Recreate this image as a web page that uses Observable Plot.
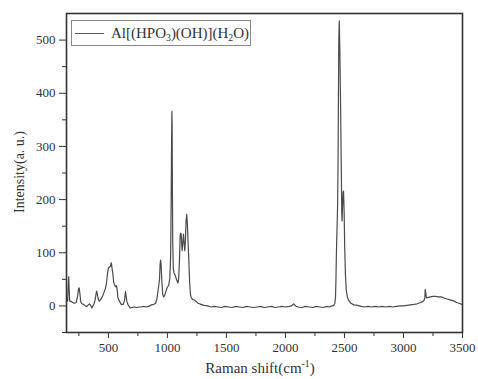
<!DOCTYPE html>
<html>
<head>
<meta charset="utf-8">
<script src="https://cdn.jsdelivr.net/npm/d3@7"></script>
<script src="https://cdn.jsdelivr.net/npm/@observablehq/plot@0.6"></script>
<style>
  html, body { margin: 0; padding: 0; background: #fff; }
  #wrap { position: relative; width: 478px; height: 379px; font-family: "Liberation Serif", "Times New Roman", serif; color: #333; }
  #ylab { position: absolute; left: 20px; top: 172px; transform: translate(-50%, -50%) rotate(-90deg); font-size: 14px; white-space: nowrap; }
  #xlab { position: absolute; left: 260px; top: 367px; transform: translate(-50%, -50%); font-size: 15px; white-space: nowrap; }
  #legend { position: absolute; left: 71px; top: 20px; width: 180px; height: 26px; border: 1px solid #888; box-sizing: border-box; background: #fff; }
  #legend .ln { position: absolute; left: 3px; top: 12px; width: 29px; height: 0; border-top: 1px solid #555; }
  #legend .tx { position: absolute; left: 39px; top: 3px; font-size: 15px; white-space: nowrap; line-height: 18px; }
  sub, sup { font-size: 65%; }
  sub { vertical-align: -0.3em; }
</style>
</head>
<body>
<div id="wrap">
  <div id="chart"></div>
  <div id="ylab">Intensity(a. u.)</div>
  <div id="xlab">Raman shift(cm<sup>-1</sup>)</div>
  <div id="legend"><div class="ln"></div><div class="tx">Al[(HPO<sub>3</sub>)(OH)](H<sub>2</sub>O)</div></div>
</div>
<script>
const seriesName = "Al[(HPO3)(OH)](H2O)";
const wavenumber = [
  145, 150, 155, 160, 164, 168, 172, 177, 182, 195, 210, 227, 240, 247, 252, 258, 266, 275, 290, 305, 318, 330,
  340, 350, 360, 370, 377, 388, 395, 400, 406, 414, 422, 435, 450, 462, 475, 485, 493, 501, 510, 518, 523, 526,
  531, 537, 545, 551, 560, 568, 575, 580, 595, 609, 626, 636, 641, 645, 650, 657, 665, 676, 686, 700, 720, 740,
  760, 779, 800, 820, 840, 864, 885, 900, 910, 918, 925, 933, 938, 942, 946, 952, 960, 968, 975, 985, 995, 1003,
  1012, 1020, 1027, 1032, 1035, 1038, 1040, 1042, 1045, 1050, 1056, 1065, 1074, 1082, 1088, 1095, 1102, 1108,
  1113, 1117, 1121, 1125, 1130, 1136, 1141, 1147, 1152, 1158, 1164, 1169, 1175, 1181, 1188, 1195, 1201, 1215,
  1229, 1245, 1260, 1285, 1310, 1340, 1370, 1398, 1430, 1460, 1490, 1520, 1550, 1580, 1610, 1640, 1670, 1700,
  1730, 1760, 1790, 1820, 1850, 1880, 1910, 1940, 1970, 2000, 2030, 2050, 2062, 2069, 2078, 2090, 2110, 2140,
  2170, 2200, 2230, 2260, 2290, 2320, 2350, 2370, 2381, 2395, 2409, 2418, 2424, 2428, 2431, 2434, 2438, 2442,
  2446, 2449, 2452, 2456, 2461, 2467, 2473, 2477, 2480, 2484, 2488, 2492, 2497, 2502, 2508, 2515, 2525, 2540,
  2555, 2580, 2610, 2640, 2670, 2700, 2730, 2760, 2790, 2820, 2850, 2880, 2910, 2940, 2970, 3000, 3031, 3060,
  3090, 3116, 3140, 3160, 3172, 3177, 3179, 3181, 3184, 3195, 3210, 3229, 3250, 3271, 3295, 3320, 3345, 3370,
  3400, 3430, 3455, 3483, 3500
];
const intensity = [
  12, 15, 9, 38, 55, 30, 10, 8, 9, 7, 5, 6, 20, 32, 34, 24, 8, 4, 3, 0, -1, 2,
  4, 1, -4, 1, 3, 12, 22, 28, 22, 13, 9, 12, 18, 25, 33, 45, 62, 72, 73, 75, 81, 80,
  70, 62, 44, 40, 36, 38, 30, 16, 8, 3, 3, 10, 20, 27, 18, 8, 3, -1, -4, -3, -2, -3,
  -2, -2, -1, -2, -1, 2, 3, 5, 12, 24, 36, 50, 78, 86, 80, 50, 22, 17, 19, 26, 33, 36,
  40, 52, 90, 200, 300, 366, 340, 230, 120, 70, 62, 58, 52, 47, 43, 50, 85, 132,
  137, 134, 115, 104, 118, 135, 120, 104, 120, 160, 172, 155, 120, 88, 45, 22, 16, 12,
  11, 8, 5, 3, 1, 0, -2, -1, -2, -3, -1, -2, -3, -1, -2, -3, -1, -2,
  -3, -2, -1, -3, -2, -1, -3, -2, -1, -2, -1, 0, 2, 4, 2, -1, -2, -3,
  -1, -2, -3, -1, -2, -3, -1, -2, -1, 0, 1, 4, 16, 50, 91, 120, 154, 190, 280, 400,
  500, 536, 480, 380, 260, 175, 160, 190, 214, 216, 180, 110, 60, 30, 16, 9, 5, 2,
  1, -1, -2, -1, -2, -1, -2, -1, -2, -1, -2, -1, 0, 0, 1, 2, 3, 4,
  6, 8, 10, 12, 14, 15, 31, 15, 16, 17, 18, 18, 17, 17, 15, 13, 11, 9,
  6, 4, 2, 0, -2
];
const xMajorTicks = [500, 1000, 1500, 2000, 2500, 3000, 3500];
const xMinorTicks = [250, 750, 1250, 1750, 2250, 2750, 3250];
const yMajorTicks = [0, 100, 200, 300, 400, 500];
const yMinorTicks = [-50, 50, 150, 250, 350, 450];

const data = wavenumber.map((w, i) => ({w, v: intensity[i], s: seriesName}));

const chart = Plot.plot({
  width: 478,
  height: 379,
  marginLeft: 66,
  marginRight: 16,
  marginTop: 13,
  marginBottom: 47,
  style: {fontFamily: '"Liberation Serif", "Times New Roman", serif', fontSize: "13px", color: "#333", background: "#fff"},
  x: {domain: [145, 3500], axis: null},
  y: {domain: [-50, 550], axis: null},
  marks: [
    Plot.line(data, {x: "w", y: "v", stroke: "#4a4a4a", strokeWidth: 1.2}),
    Plot.axisX(xMajorTicks, {anchor: "bottom", tickSize: 6, tickPadding: 4, tickFormat: d => String(d), label: null, stroke: "#333", fill: "#333", fontSize: 13}),
    Plot.axisX(xMinorTicks, {anchor: "bottom", tickSize: 4, tickFormat: () => "", label: null, stroke: "#333"}),
    Plot.axisY(yMajorTicks, {anchor: "left", tickSize: 7, tickPadding: 4, tickFormat: d => String(d), label: null, stroke: "#333", fill: "#333", fontSize: 13}),
    Plot.axisY(yMinorTicks, {anchor: "left", tickSize: 4, tickFormat: () => "", label: null, stroke: "#333"}),
    Plot.frame({stroke: "#333", strokeWidth: 1.6})
  ]
});
document.getElementById("chart").appendChild(chart);
</script>
</body>
</html>
